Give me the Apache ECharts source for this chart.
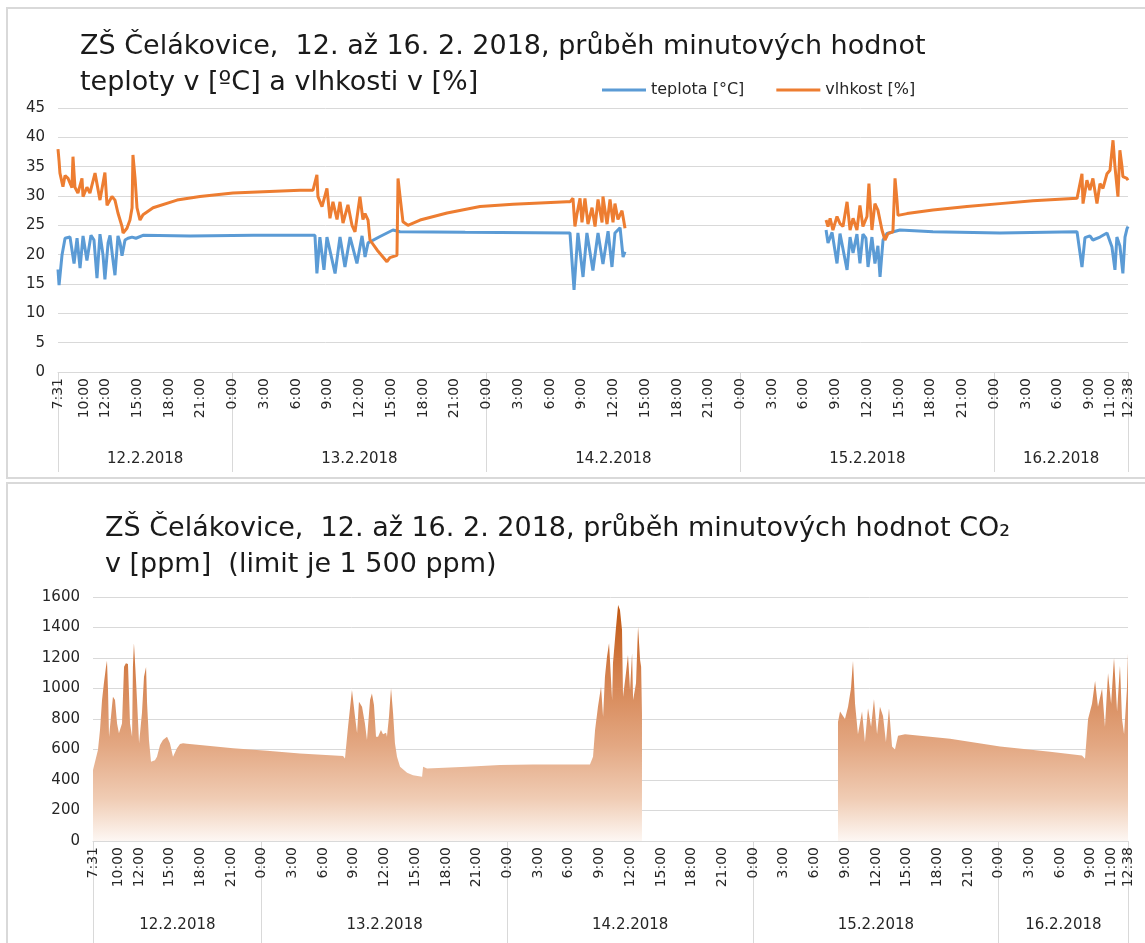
<!DOCTYPE html>
<html lang="cs">
<head>
<meta charset="UTF-8">
<title>ZŠ Čelákovice – teplota, vlhkost, CO2</title>
<style>
    html, body { margin: 0; padding: 0; background: #fff; }
    #chart { width: 1145px; height: 943px; }
</style>
</head>
<body>
<div id="chart"></div>
<script src="https://cdn.jsdelivr.net/npm/echarts@6/dist/echarts.min.js"></script>
<script>
// časy jsou 'den h:mm' (únor 2018)
var dayNames = ['12.2.2018', '13.2.2018', '14.2.2018', '15.2.2018', '16.2.2018'];
var dayEdges = ['12 7:31', '13 0:00', '14 0:00', '15 0:00', '16 0:00', '16 12:38'];
var timeLabels = ['12 7:31', '12 10:00', '12 12:00', '12 15:00', '12 18:00', '12 21:00',
    '13 0:00', '13 3:00', '13 6:00', '13 9:00', '13 12:00', '13 15:00', '13 18:00', '13 21:00',
    '14 0:00', '14 3:00', '14 6:00', '14 9:00', '14 12:00', '14 15:00', '14 18:00', '14 21:00',
    '15 0:00', '15 3:00', '15 6:00', '15 9:00', '15 12:00', '15 15:00', '15 18:00', '15 21:00',
    '16 0:00', '16 3:00', '16 6:00', '16 9:00', '16 11:00', '16 12:38'];

// teplota [°C]
var teplota = [
    ['12 7:31', 17.5], ['12 7:37', 14.8], ['12 7:54', 20], ['12 8:11', 22.8], ['12 8:39', 23],
    ['12 9:02', 18.5], ['12 9:19', 22.8], ['12 9:36', 17.7], ['12 9:53', 23.2], ['12 10:15', 19],
    ['12 10:38', 23.3], ['12 10:55', 22.5], ['12 11:12', 16], ['12 11:29', 23.5], ['12 11:46', 20],
    ['12 11:57', 15.8], ['12 12:15', 22], ['12 12:26', 23.3], ['12 12:43', 19], ['12 12:54', 16.5],
    ['12 13:11', 23.2], ['12 13:23', 22], ['12 13:34', 19.8], ['12 13:51', 22.5], ['12 14:08', 22.8],
    ['12 14:31', 23], ['12 14:53', 22.8], ['12 15:33', 23.3], ['12 20:00', 23.2], ['13 2:00', 23.3],
    ['13 7:48', 23.3], ['13 7:59', 16.8], ['13 8:16', 23], ['13 8:39', 17.4], ['13 8:56', 23],
    ['13 9:42', 16.8], ['13 10:10', 23], ['13 10:38', 17.9], ['13 11:07', 23], ['13 11:46', 18.5],
    ['13 12:15', 23.2], ['13 12:32', 19.6], ['13 12:49', 22], ['13 13:57', 23.1], ['13 15:10', 24.2],
    ['13 15:50', 23.9], ['13 22:00', 23.8], ['14 7:54', 23.7], ['14 8:17', 14], ['14 8:39', 23.7],
    ['14 9:08', 16.2], ['14 9:30', 23.7], ['14 10:04', 17.3], ['14 10:33', 23.7], ['14 11:01', 18.4],
    ['14 11:30', 24], ['14 11:52', 17.9], ['14 12:09', 23.7], ['14 12:38', 24.6], ['14 12:55', 19.6],
    ['14 13:06', 20.5], ['15 0:00', null],
    ['15 8:06', 24.2], ['15 8:17', 22], ['15 8:40', 23.8], ['15 9:08', 18.5], ['15 9:25', 23.6],
    ['15 10:05', 17.4], ['15 10:22', 23], ['15 10:39', 20.3], ['15 11:01', 23.5], ['15 11:18', 18.5],
    ['15 11:35', 23.5], ['15 11:52', 22.8], ['15 12:04', 17.9], ['15 12:26', 23], ['15 12:43', 18.5],
    ['15 13:00', 21.5], ['15 13:12', 16.2], ['15 13:29', 22.5], ['15 13:51', 23.6], ['15 15:05', 24.2],
    ['15 18:12', 23.9], ['16 0:32', 23.7], ['16 7:49', 23.9], ['16 8:17', 17.9], ['16 8:34', 22.9],
    ['16 9:02', 23.2], ['16 9:19', 22.5], ['16 9:59', 23], ['16 10:39', 23.7], ['16 11:07', 21.3],
    ['16 11:24', 17.4], ['16 11:35', 23], ['16 11:52', 21.5], ['16 12:09', 16.8], ['16 12:21', 23],
    ['16 12:32', 24.4], ['16 12:38', 24.8]
];

// vlhkost [%]
var vlhkost = [
    ['12 7:31', 38], ['12 7:37', 36], ['12 7:42', 33.9], ['12 7:59', 31.6], ['12 8:11', 33.5],
    ['12 8:28', 33], ['12 8:50', 31.4], ['12 8:56', 36.7], ['12 9:07', 31.5], ['12 9:24', 30.5],
    ['12 9:47', 33], ['12 9:53', 29.9], ['12 10:15', 31.5], ['12 10:32', 30.5], ['12 11:01', 33.9],
    ['12 11:29', 29.3], ['12 11:57', 34], ['12 12:09', 28.4], ['12 12:37', 29.9], ['12 12:54', 29.3],
    ['12 13:11', 27.1], ['12 13:34', 24.8], ['12 13:40', 23.7], ['12 14:02', 24.5], ['12 14:19', 25.9],
    ['12 14:31', 28], ['12 14:36', 37], ['12 14:48', 33], ['12 14:59', 28], ['12 15:16', 25.9],
    ['12 15:33', 26.8], ['12 16:30', 28], ['12 18:46', 29.3], ['12 20:56', 29.9], ['13 0:03', 30.5],
    ['13 6:23', 31], ['13 7:37', 31], ['13 7:59', 33.6], ['13 8:05', 29.9], ['13 8:28', 28.2],
    ['13 8:56', 31.3], ['13 9:13', 26.2], ['13 9:30', 29], ['13 9:53', 26], ['13 10:10', 29],
    ['13 10:27', 25.4], ['13 10:55', 28.5], ['13 11:18', 25], ['13 11:35', 23.9], ['13 12:03', 29.9],
    ['13 12:20', 26], ['13 12:32', 27], ['13 12:49', 25.9], ['13 13:00', 22.5], ['13 13:40', 20.8],
    ['13 14:36', 18.8], ['13 14:53', 19.5], ['13 15:33', 19.9], ['13 15:39', 33], ['13 15:50', 30],
    ['13 16:07', 25.6], ['13 16:35', 25], ['13 17:44', 25.9], ['13 20:17', 27.1], ['13 23:24', 28.2],
    ['14 2:31', 28.6], ['14 7:37', 29], ['14 7:54', 29], ['14 8:11', 29.6], ['14 8:22', 24.8],
    ['14 8:34', 27], ['14 8:51', 29.6], ['14 9:02', 25.5], ['14 9:19', 29.6], ['14 9:36', 25.2],
    ['14 9:59', 28], ['14 10:16', 24.8], ['14 10:33', 29.4], ['14 10:56', 25.5], ['14 11:01', 29.9],
    ['14 11:24', 25.2], ['14 11:41', 29.4], ['14 11:58', 25.5], ['14 12:09', 28.7], ['14 12:26', 26],
    ['14 12:49', 27.5], ['14 13:06', 24.5], ['15 0:00', null],
    ['15 8:06', 25.9], ['15 8:17', 24.8], ['15 8:29', 26.2], ['15 8:45', 24.2], ['15 9:08', 26.5],
    ['15 9:25', 25.3], ['15 9:42', 24.8], ['15 10:05', 29], ['15 10:22', 24.2], ['15 10:39', 26.2],
    ['15 11:01', 24.2], ['15 11:18', 28.4], ['15 11:35', 24.8], ['15 11:58', 26.5], ['15 12:09', 32.1],
    ['15 12:26', 24.2], ['15 12:43', 28.7], ['15 13:00', 27.6], ['15 13:23', 24.2], ['15 13:40', 22.5],
    ['15 13:57', 23.6], ['15 14:25', 23.9], ['15 14:37', 33], ['15 14:48', 29.3], ['15 14:54', 26.7],
    ['15 15:45', 27], ['15 18:12', 27.6], ['15 21:25', 28.2], ['16 0:32', 28.7], ['16 3:39', 29.2],
    ['16 7:49', 29.6], ['16 8:17', 33.8], ['16 8:23', 28.7], ['16 8:45', 32.7], ['16 9:02', 31],
    ['16 9:19', 33], ['16 9:42', 28.7], ['16 9:59', 32.1], ['16 10:16', 31.3], ['16 10:39', 33.8],
    ['16 10:56', 34.4], ['16 11:13', 39.5], ['16 11:24', 35], ['16 11:41', 29.9], ['16 11:52', 37.8],
    ['16 12:04', 35], ['16 12:09', 33.3], ['16 12:32', 33], ['16 12:38', 32.7]
];

// CO2 [ppm]
var co2 = [
    ['12 7:31', 466], ['12 8:00', 597], ['12 8:12', 728], ['12 8:24', 925], ['12 8:35', 1036],
    ['12 8:47', 1141], ['12 8:53', 1182], ['12 8:59', 990], ['12 9:05', 684], ['12 9:22', 881],
    ['12 9:28', 946], ['12 9:40', 925], ['12 9:52', 771], ['12 10:03', 706], ['12 10:21', 771],
    ['12 10:33', 1143], ['12 10:44', 1165], ['12 10:56', 1160], ['12 11:08', 771], ['12 11:20', 684],
    ['12 11:25', 1141], ['12 11:31', 1296], ['12 11:43', 1056], ['12 11:49', 925], ['12 12:01', 641],
    ['12 12:18', 839], ['12 12:30', 1077], ['12 12:42', 1141], ['12 12:48', 903], ['12 12:59', 662],
    ['12 13:11', 520], ['12 13:34', 530], ['12 13:46', 553], ['12 14:04', 630], ['12 14:21', 662],
    ['12 14:45', 684], ['12 14:51', 675], ['12 15:02', 641], ['12 15:20', 553], ['12 15:26', 545],
    ['12 15:43', 608], ['12 16:01', 636], ['12 16:19', 641], ['12 16:42', 638], ['12 17:58', 630],
    ['12 21:12', 608], ['13 0:31', 592], ['13 3:44', 574], ['13 7:57', 557], ['13 8:08', 541],
    ['13 8:26', 749], ['13 8:49', 990], ['13 8:55', 1000], ['13 9:07', 815], ['13 9:19', 706],
    ['13 9:30', 913], ['13 9:48', 880], ['13 9:54', 890], ['13 10:05', 771], ['13 10:17', 662],
    ['13 10:35', 925], ['13 10:46', 968], ['13 10:58', 892], ['13 11:10', 684], ['13 11:22', 684],
    ['13 11:39', 728], ['13 11:51', 700], ['13 12:09', 710], ['13 12:14', 684], ['13 12:26', 815],
    ['13 12:38', 1001], ['13 12:50', 837], ['13 13:01', 641], ['13 13:13', 553], ['13 13:31', 487],
    ['13 14:12', 447], ['13 14:47', 431], ['13 15:40', 421], ['13 15:46', 487], ['13 16:09', 476],
    ['13 20:03', 487], ['13 23:17', 498], ['14 2:30', 502], ['14 8:04', 502], ['14 8:22', 553],
    ['14 8:34', 728], ['14 8:51', 881], ['14 9:09', 1012], ['14 9:21', 815], ['14 9:32', 1077],
    ['14 9:44', 1208], ['14 9:56', 1296], ['14 10:14', 925], ['14 10:19', 1165], ['14 10:37', 1405],
    ['14 10:49', 1548], ['14 11:00', 1515], ['14 11:12', 1384], ['14 11:18', 946], ['14 11:35', 1100],
    ['14 11:47', 1220], ['14 11:59', 990], ['14 12:11', 1231], ['14 12:17', 925], ['14 12:34', 1034],
    ['14 12:46', 1405], ['14 12:58', 1187], ['14 13:04', 1143], ['14 13:09', 837], ['15 0:00', null],
    ['15 8:18', 780], ['15 8:30', 850], ['15 8:59', 800], ['15 9:17', 880], ['15 9:34', 1000],
    ['15 9:46', 1180], ['15 9:58', 900], ['15 10:15', 700], ['15 10:39', 850], ['15 10:56', 650],
    ['15 11:14', 870], ['15 11:32', 750], ['15 11:49', 930], ['15 12:07', 700], ['15 12:24', 880],
    ['15 12:42', 820], ['15 12:59', 650], ['15 13:17', 870], ['15 13:35', 620], ['15 13:52', 600],
    ['15 14:10', 690], ['15 14:51', 700], ['15 19:15', 670], ['16 0:08', 620], ['16 5:01', 585],
    ['16 8:08', 560], ['16 8:26', 540], ['16 8:44', 800], ['16 9:07', 900], ['16 9:25', 1050],
    ['16 9:42', 880], ['16 10:06', 1000], ['16 10:23', 750], ['16 10:41', 1100], ['16 10:59', 900],
    ['16 11:16', 1200], ['16 11:34', 850], ['16 11:51', 1150], ['16 12:03', 800], ['16 12:15', 700],
    ['16 12:32', 1000], ['16 12:38', 1230]
];

// minuty od 12.2. 0:00
function toMin(s) {
    var p = s.split(' ');
    var hm = p[1].split(':');
    return (p[0] - 12) * 1440 + hm[0] * 60 + (+hm[1]);
}
function hhmm(v) {
    var m = Math.round(v) % 1440;
    return Math.floor(m / 60) + ':' + ('0' + (m % 60)).slice(-2);
}
function toData(arr) {
    return arr.map(function (d) { return [toMin(d[0]), d[1] === null ? '-' : d[1]]; });
}

var edges = dayEdges.map(toMin);
var labelMins = timeLabels.map(toMin);
var mids = [];
for (var i = 0; i < dayNames.length; i++) mids.push((edges[i] + edges[i + 1]) / 2);
var xMin = edges[0], xMax = edges[edges.length - 1];

var font = 'DejaVu Sans';
var txt = '#262626';
var gridColor = '#d9d9d9';

function timeAxis(gridIndex, tickLen) {
    return {
        type: 'value', gridIndex: gridIndex, min: xMin, max: xMax, position: 'bottom',
        splitLine: { show: false },
        axisLine: { show: true, lineStyle: { color: gridColor, width: 1 } },
        axisTick: { show: true, customValues: edges, length: tickLen, lineStyle: { color: gridColor } },
        axisLabel: {
            customValues: labelMins, rotate: 90, margin: 6, fontFamily: font, fontSize: 14, color: txt,
            formatter: function (v) { return hhmm(v); }
        }
    };
}
function dayAxis(gridIndex, margin) {
    return {
        type: 'value', gridIndex: gridIndex, min: xMin, max: xMax, position: 'bottom',
        splitLine: { show: false }, axisLine: { show: false }, axisTick: { show: false },
        axisLabel: {
            customValues: mids, margin: margin, fontFamily: font, fontSize: 15, color: txt,
            formatter: function (v) {
                var k = 0;
                for (var j = 0; j < mids.length; j++) if (Math.abs(mids[j] - v) < Math.abs(mids[k] - v)) k = j;
                return dayNames[k];
            }
        }
    };
}
function valueAxis(gridIndex, max, step) {
    return {
        type: 'value', gridIndex: gridIndex, min: 0, max: max, interval: step,
        axisLine: { show: false }, axisTick: { show: false },
        splitLine: { lineStyle: { color: gridColor, width: 1 } },
        axisLabel: {
            fontFamily: font, fontSize: 15, color: txt, margin: 13,
            formatter: function (v) { return String(v); }
        }
    };
}

var chart = echarts.init(document.getElementById('chart'));
chart.setOption({
    animation: false,
    backgroundColor: '#ffffff',
    graphic: [
        { type: 'rect', shape: { x: 7, y: 8, width: 1150, height: 470 }, style: { fill: 'none', stroke: gridColor, lineWidth: 2 } },
        { type: 'rect', shape: { x: 7, y: 483, width: 1150, height: 470 }, style: { fill: 'none', stroke: gridColor, lineWidth: 2 } }
    ],
    title: [{
        text: 'ZŠ Čelákovice,  12. až 16. 2. 2018, průběh minutových hodnot\nteploty v [ºC] a vlhkosti v [%]',
        left: 75, top: 24,
        textStyle: { fontFamily: font, fontSize: 27, lineHeight: 36, fontWeight: 'normal', color: '#1a1a1a' }
    }, {
        text: 'ZŠ Čelákovice,  12. až 16. 2. 2018, průběh minutových hodnot CO₂\nv [ppm]  (limit je 1 500 ppm)',
        left: 100, top: 506,
        textStyle: { fontFamily: font, fontSize: 27, lineHeight: 36, fontWeight: 'normal', color: '#1a1a1a' }
    }],
    legend: {
        data: ['teplota [°C]', 'vlhkost [%]'],
        left: 597, top: 77, icon: 'rect', itemWidth: 44, itemHeight: 3, itemGap: 32,
        textStyle: { fontFamily: font, fontSize: 16, color: txt }
    },
    grid: [
        { left: 58, right: 17, top: 108, height: 264 },
        { left: 93, right: 17, top: 597, height: 244 }
    ],
    xAxis: [timeAxis(0, 100), dayAxis(0, 80), timeAxis(1, 102), dayAxis(1, 77)],
    yAxis: [valueAxis(0, 45, 5), valueAxis(1, 1600, 200)],
    series: [{
        name: 'teplota [°C]', type: 'line', xAxisIndex: 0, yAxisIndex: 0,
        data: toData(teplota), symbol: 'none', connectNulls: false,
        itemStyle: { color: '#5b9bd5' }, lineStyle: { color: '#5b9bd5', width: 3 }
    }, {
        name: 'vlhkost [%]', type: 'line', xAxisIndex: 0, yAxisIndex: 0,
        data: toData(vlhkost), symbol: 'none', connectNulls: false,
        itemStyle: { color: '#ed7d31' }, lineStyle: { color: '#ed7d31', width: 3 }
    }, {
        name: 'CO2', type: 'line', xAxisIndex: 2, yAxisIndex: 1,
        data: toData(co2), symbol: 'none', connectNulls: false,
        lineStyle: { width: 0, opacity: 0 },
        areaStyle: {
            opacity: 1,
            color: {
                type: 'linear', x: 0, y: 0, x2: 0, y2: 1,
                colorStops: [
                    { offset: 0, color: '#c0550e' },
                    { offset: 0.3, color: '#d5824f' },
                    { offset: 0.6, color: '#e3a883' },
                    { offset: 0.82, color: '#f0ccb4' },
                    { offset: 1, color: '#fdf7f3' }
                ]
            }
        }
    }]
});
</script>
</body>
</html>
